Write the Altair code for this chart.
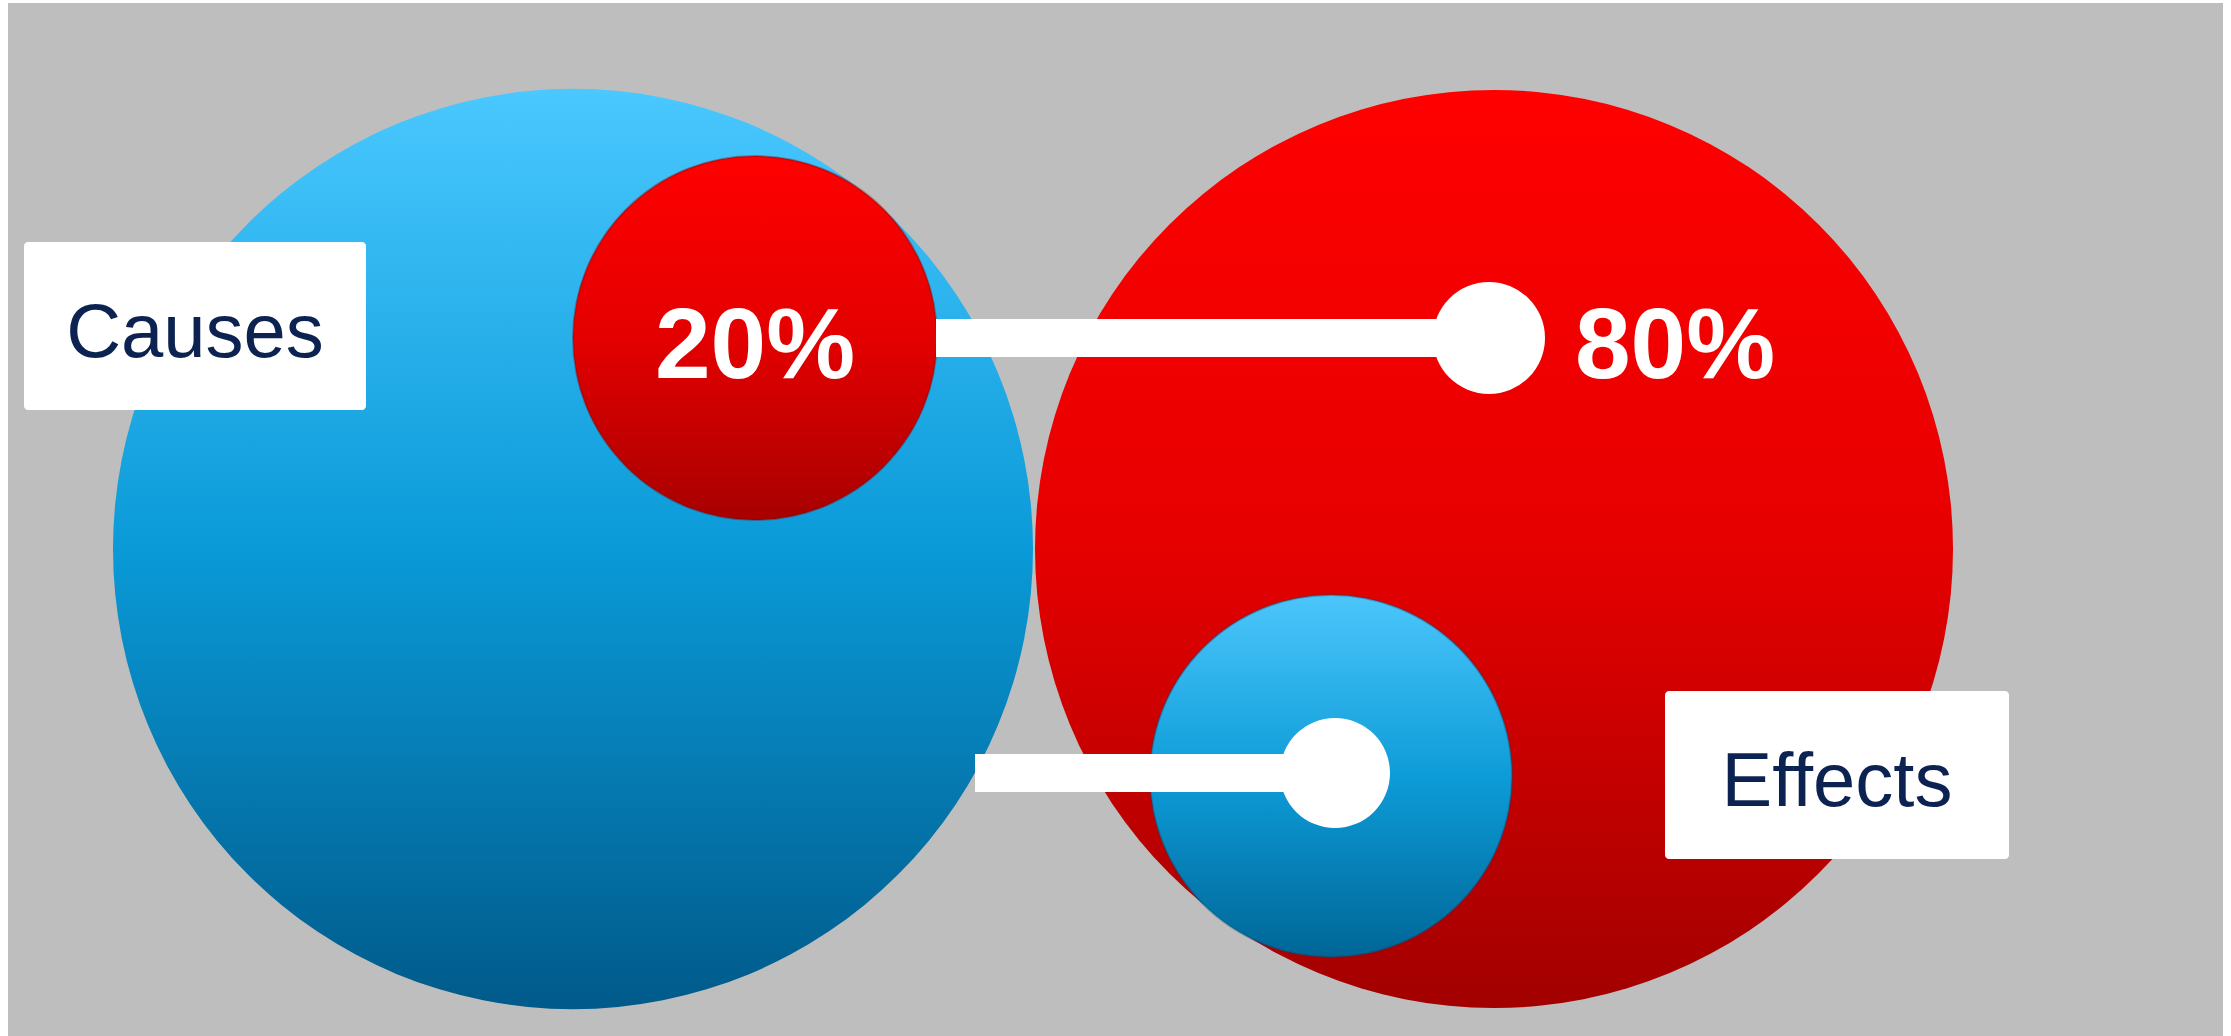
import altair as alt
import pandas as pd

# ---- content ----
groups = ["Causes", "Effects"]
shares = ["20%", "80%"]

# ---- diagram geometry (canvas units, y grows downward) ----
canvas_w, canvas_h = 2231, 1036
panel_x = [8, 2223]
panel_y = [3, 1036]

big_cx = [573, 1494]          # big circles: Causes (blue), Effects (red)
big_cy = [549, 549]
big_r = [460, 459]

small_cx = [755, 1331]        # small circles: 20% (red on blue), blue on red
small_cy = [338, 776]
small_r = [182, 181]

bar_x1 = [936, 975]
bar_x2 = [1489, 1335]
bar_cy = [338, 773]
bar_half = [19, 19]

dot_cx = [1489, 1335]
dot_cy = [338, 773]
dot_r = [56, 55]

box_x1 = [24, 1665]
box_x2 = [366, 2009]
box_y1 = [242, 691]
box_y2 = [410, 859]

label_cx = [195, 1837]
label_y = [357, 806]

share_cx = [755, 1675]
share_y = [378, 378]

X = alt.Scale(domain=[0, canvas_w], nice=False, zero=False)
Y = alt.Scale(domain=[0, canvas_h], nice=False, zero=False, reverse=True)


def xe(f="x"):
    return alt.X(f"{f}:Q", scale=X, axis=None)


def ye(f="y"):
    return alt.Y(f"{f}:Q", scale=Y, axis=None)


def grad(top, mid, bottom):
    return alt.LinearGradient(
        gradient="linear",
        stops=[
            alt.GradientStop(color=top, offset=0),
            alt.GradientStop(color=mid, offset=0.5),
            alt.GradientStop(color=bottom, offset=1),
        ],
        x1=0, x2=0, y1=0, y2=1,
    )


blue_grad = grad("#4ac8ff", "#0a9ad8", "#005a8a")
red_grad = grad("#ff0000", "#e60000", "#a20000")
small_red_grad = grad("#ff0000", "#e40000", "#a80000")
small_blue_grad = grad("#4cc6fb", "#0d9cd8", "#006697")


def circle_layer(cx, cy, r, fill, stroke=None):
    df = pd.DataFrame({"x": [cx], "y": [cy], "s": [(2 * r) ** 2]})
    kw = dict(fill=fill, opacity=1, fillOpacity=1)
    if stroke:
        kw.update(stroke=stroke, strokeWidth=2, strokeOpacity=0.35)
    else:
        kw.update(strokeWidth=0)
    return alt.Chart(df).mark_circle(**kw).encode(
        x=xe(), y=ye(), size=alt.Size("s:Q", scale=None, legend=None)
    )


bg_df = pd.DataFrame({"x": [panel_x[0]], "x2": [panel_x[1]], "y": [panel_y[0]], "y2": [panel_y[1]]})
bg = alt.Chart(bg_df).mark_rect(color="#bebebe").encode(
    x=xe(), x2="x2:Q", y=ye(), y2="y2:Q"
)

big_blue = circle_layer(big_cx[0], big_cy[0], big_r[0], blue_grad)
big_red = circle_layer(big_cx[1], big_cy[1], big_r[1], red_grad)
small_red = circle_layer(small_cx[0], small_cy[0], small_r[0], small_red_grad, "#7a0000")
small_blue = circle_layer(small_cx[1], small_cy[1], small_r[1], small_blue_grad, "#004d75")

bar_df = pd.DataFrame({
    "x": bar_x1, "x2": bar_x2,
    "y": [c - h for c, h in zip(bar_cy, bar_half)],
    "y2": [c + h for c, h in zip(bar_cy, bar_half)],
})
bars = alt.Chart(bar_df).mark_rect(color="white").encode(
    x=xe(), x2="x2:Q", y=ye(), y2="y2:Q"
)

dot_df = pd.DataFrame({"x": dot_cx, "y": dot_cy, "s": [(2 * r) ** 2 for r in dot_r]})
dots = alt.Chart(dot_df).mark_circle(color="white", opacity=1).encode(
    x=xe(), y=ye(), size=alt.Size("s:Q", scale=None, legend=None)
)

box_df = pd.DataFrame({"x": box_x1, "x2": box_x2, "y": box_y1, "y2": box_y2})
boxes = alt.Chart(box_df).mark_rect(color="white", cornerRadius=4).encode(
    x=xe(), x2="x2:Q", y=ye(), y2="y2:Q"
)

label_df = pd.DataFrame({"x": label_cx, "y": label_y, "t": groups})
labels = alt.Chart(label_df).mark_text(
    font="Liberation Sans", fontSize=76, color="#0c2352", align="center", baseline="alphabetic"
).encode(x=xe(), y=ye(), text="t:N")

share_df = pd.DataFrame({"x": share_cx, "y": share_y, "t": shares})
share_text = alt.Chart(share_df).mark_text(
    font="Liberation Sans", fontSize=100, fontWeight="bold", color="white",
    align="center", baseline="alphabetic"
).encode(x=xe(), y=ye(), text="t:N")

chart = alt.layer(
    bg, big_blue, big_red, small_red, small_blue, bars, dots, boxes, labels, share_text
).properties(
    width=canvas_w, height=canvas_h, padding=0,
    autosize=alt.AutoSizeParams(type="none"), background="white",
).configure_view(stroke=None)

chart.save("out.html", embed_options={"renderer": "svg", "actions": False})
